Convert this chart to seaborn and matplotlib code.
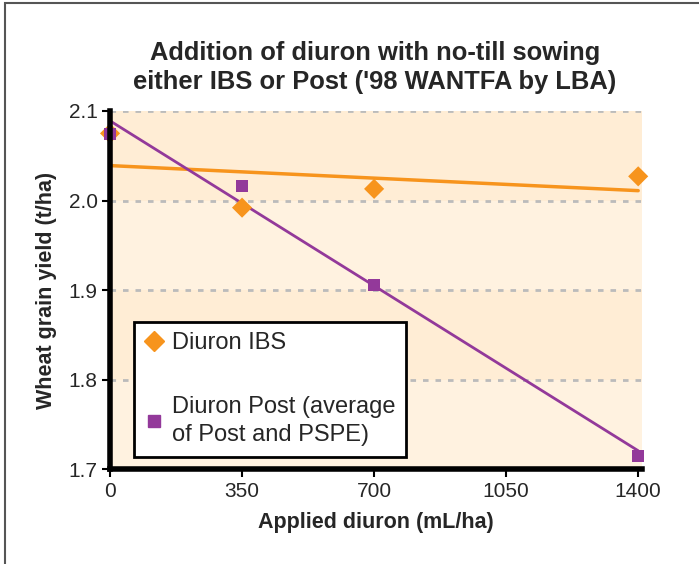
import numpy as np
import pandas as pd
import matplotlib
matplotlib.use('Agg')
import matplotlib.pyplot as plt
from matplotlib.lines import Line2D
from matplotlib.patches import Rectangle
import seaborn as sns

# data
rate = [0, 350, 700, 1400]
ibs_yield = [2.075, 1.992, 2.013, 2.027]
post_yield = [2.074, 2.016, 1.906, 1.715]
x_ticks = [0, 350, 700, 1050, 1400]
y_ticks = [1.7, 1.8, 1.9, 2.0, 2.1]

ORANGE = '#F7941D'
PURPLE = '#93399A'

df = pd.DataFrame({
    'rate': rate * 2,
    'yield': ibs_yield + post_yield,
    'series': ['IBS'] * 4 + ['Post'] * 4,
})

sns.set_theme(style='white')
plt.rcParams['font.family'] = ['Liberation Sans', 'DejaVu Sans']

fig = plt.figure(figsize=(6.99, 5.64), dpi=100)
ax = fig.add_axes([0.1574, 0.1684, 0.761, 0.6348])

# outer frame (only left/top visible in the reference)
fig.patches.append(Rectangle((5 / 699, -0.2), 1.2, 1.2 - 3 / 564,
                             transform=fig.transFigure, fill=False,
                             edgecolor='#555555', linewidth=1.5))

# banded background
bands = ['#FFF2E0', '#FFEDD5', '#FFF2E0', '#FFEDD5']
for lo, hi, c in zip(y_ticks[:-1], y_ticks[1:], bands):
    ax.axhspan(lo, hi, color=c, zorder=0, linewidth=0)

for yv in y_ticks[1:]:
    ax.axhline(yv, color='#BBBBBB', linestyle=(0, (2, 2.5)), linewidth=2, zorder=1)

# trend lines
sns.regplot(data=df[df.series == 'IBS'], x='rate', y='yield', scatter=False,
            ci=None, color=ORANGE, line_kws={'linewidth': 2.5, 'zorder': 2}, ax=ax)
sns.regplot(data=df[df.series == 'Post'], x='rate', y='yield', scatter=False,
            ci=None, color=PURPLE, line_kws={'linewidth': 2, 'zorder': 2}, ax=ax)

# points
sns.scatterplot(data=df[df.series == 'IBS'], x='rate', y='yield', marker='D',
                s=105, color=ORANGE, edgecolor='none', zorder=3, ax=ax, legend=False)
sns.scatterplot(data=df[df.series == 'Post'], x='rate', y='yield', marker='s',
                s=76, color=PURPLE, edgecolor='none', zorder=4, ax=ax, legend=False)

ax.set_xlim(0, 1410)
ax.set_ylim(1.7, 2.1)
ax.set_xticks(x_ticks)
ax.set_yticks(y_ticks)
ax.set_xticklabels([str(v) for v in x_ticks], fontsize=15)
ax.set_yticklabels([f'{v:.1f}' for v in y_ticks], fontsize=15)
ax.tick_params(axis='both', direction='out', length=6, width=1.5, color='black',
               bottom=True, left=True, pad=3)

for side in ['top', 'right']:
    ax.spines[side].set_visible(False)
for side in ['left', 'bottom']:
    ax.spines[side].set_color('black')
    ax.spines[side].set_linewidth(4)
ax.spines['left'].set_zorder(5)
ax.spines['bottom'].set_zorder(5)
for coll in ax.collections:
    coll.set_clip_on(False)

ax.set_xlabel('Applied diuron (mL/ha)', fontsize=15.5, fontweight='bold', labelpad=8)
ax.set_ylabel('Wheat grain yield (t/ha)', fontsize=15.5, fontweight='bold', labelpad=8)
fig.text(0.536, 1 - 53 / 564, 'Addition of diuron with no-till sowing',
         ha='center', va='center', fontsize=18.4, fontweight='bold')
fig.text(0.536, 1 - 82 / 564, 'either IBS or Post (\'98 WANTFA by LBA)',
         ha='center', va='center', fontsize=18.4, fontweight='bold')

handles = [
    Line2D([], [], marker='D', color=ORANGE, linestyle='none', markersize=10.5),
    Line2D([], [], marker='s', color=PURPLE, linestyle='none', markersize=8.5),
]
leg = ax.legend(handles, ['Diuron IBS', 'Diuron Post (average\nof Post and PSPE)'],
                loc='lower left', bbox_to_anchor=(24 / 532, 12 / 358), fontsize=17,
                frameon=True, fancybox=False, framealpha=1, edgecolor='black',
                handlelength=0.8, handletextpad=0.35, labelspacing=1.75,
                borderpad=0.45, borderaxespad=0)
for t in leg.get_texts():
    t.set_linespacing(1.4)
leg.get_frame().set_linewidth(2)
leg.set_zorder(6)

fig.savefig('out.png', dpi=100)
